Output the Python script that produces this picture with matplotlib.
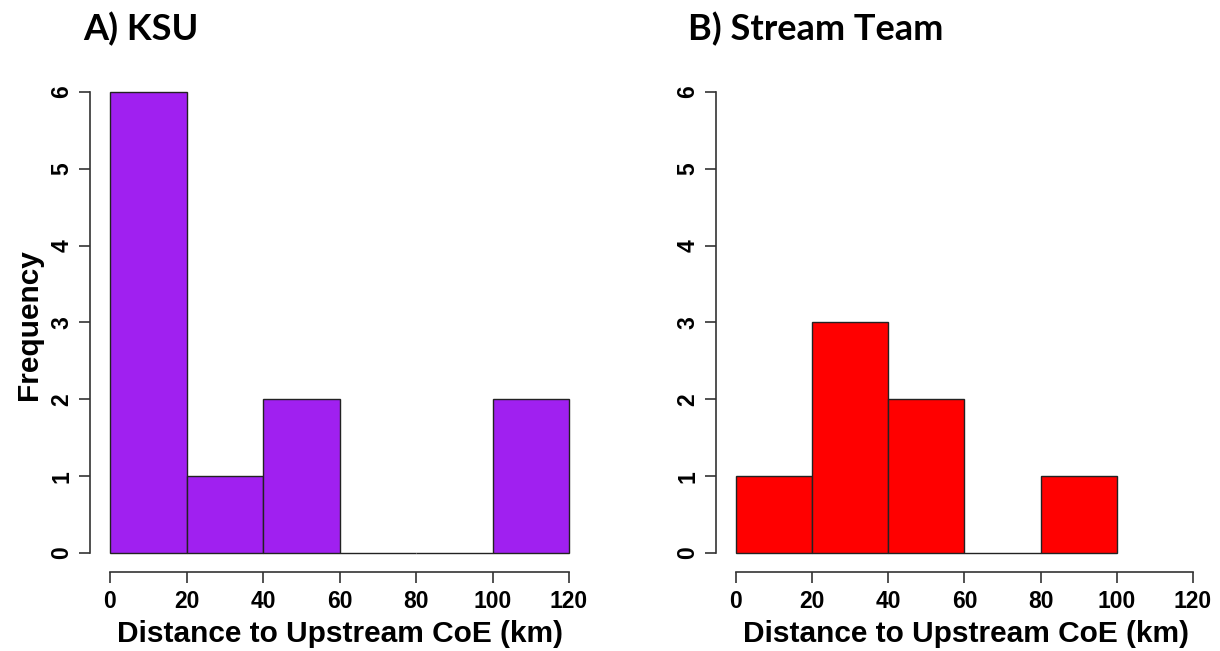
import numpy as np
import matplotlib.pyplot as plt

plt.rcParams['font.family'] = ['Liberation Sans', 'DejaVu Sans']

# histogram bins (km) and counts per bin
bin_edges = [0, 20, 40, 60, 80, 100, 120]
ksu_counts = [6, 1, 2, 0, 0, 2]
stream_edges = [0, 20, 40, 60, 80, 100]
stream_counts = [1, 3, 2, 0, 1]

x_ticks = [0, 20, 40, 60, 80, 100, 120]
y_ticks = [0, 1, 2, 3, 4, 5, 6]

fig = plt.figure(figsize=(12.2, 6.51), dpi=100)

W, H = 1220, 651


def make_axes(left_px):
    # axes box in pixel terms: left spine at left_px, x-axis line at 572, top at 76
    return fig.add_axes([left_px / W, (H - 572) / H, 500 / W, (572 - 76.6) / H])


def r_hist(ax, edges, counts, color, xscale):
    ax.bar(edges[:-1], counts, width=np.diff(edges), align='edge',
           color=color, edgecolor='#222222', linewidth=1.0)
    ax.set_xlim(-20 / xscale, -20 / xscale + 500 / xscale)
    ax.set_ylim(-19 / 76.8, 6 + 15.4 / 76.8)
    for s in ['top', 'right']:
        ax.spines[s].set_visible(False)
    ax.spines['left'].set_bounds(0, 6)
    ax.spines['bottom'].set_bounds(0, 120)
    for s in ['left', 'bottom']:
        ax.spines[s].set_color('#333333')
        ax.spines[s].set_linewidth(1.2)
    ax.set_xticks(x_ticks)
    ax.set_yticks(y_ticks)
    ax.tick_params(axis='both', length=8, width=1.2, color='#333333',
                   labelsize=16.5, pad=5)
    ax.tick_params(axis='y', labelrotation=90, pad=4)
    for lab in ax.get_xticklabels() + ax.get_yticklabels():
        lab.set_fontweight('bold')
    for lab in ax.get_yticklabels():
        lab.set_verticalalignment('center')
    ax.set_xlabel('Distance to Upstream CoE (km)', fontsize=21.5,
                  fontweight='bold', labelpad=5)


ax1 = make_axes(90)
r_hist(ax1, bin_edges, ksu_counts, '#A020F0', 3.825)
ax1.set_ylabel('Frequency', fontsize=21.5, fontweight='bold', labelpad=5)

ax2 = make_axes(716)
r_hist(ax2, stream_edges, stream_counts, '#FF0000', 3.808)

fig.text(83 / W, 1 - 40 / H, 'A) KSU', fontsize=26, fontweight='bold',
         family=['Lato', 'DejaVu Sans'], ha='left', va='baseline')
fig.text(688 / W, 1 - 40 / H, 'B) Stream Team', fontsize=26, fontweight='bold',
         family=['Lato', 'DejaVu Sans'], ha='left', va='baseline')

fig.savefig('out.png', dpi=100)
